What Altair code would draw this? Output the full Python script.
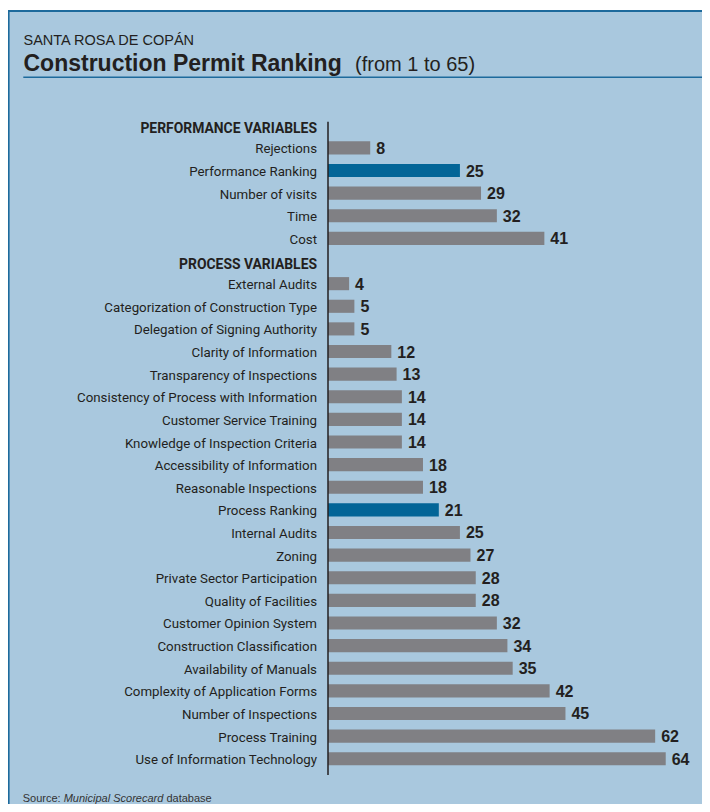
import altair as alt
import pandas as pd

# ---- data ----
perf_labels = ["Rejections", "Performance Ranking", "Number of visits", "Time", "Cost"]
perf_values = [8, 25, 29, 32, 41]

proc_labels = [
    "External Audits", "Categorization of Construction Type", "Delegation of Signing Authority",
    "Clarity of Information", "Transparency of Inspections", "Consistency of Process with Information",
    "Customer Service Training", "Knowledge of Inspection Criteria", "Accessibility of Information",
    "Reasonable Inspections", "Process Ranking", "Internal Audits", "Zoning",
    "Private Sector Participation", "Quality of Facilities", "Customer Opinion System",
    "Construction Classification", "Availability of Manuals", "Complexity of Application Forms",
    "Number of Inspections", "Process Training", "Use of Information Technology",
]
proc_values = [4, 5, 5, 12, 13, 14, 14, 14, 18, 18, 21, 25, 27, 28, 28, 32, 34, 35, 42, 45, 62, 64]

headers = ["PERFORMANCE VARIABLES", "PROCESS VARIABLES"]
highlight = ["Performance Ranking", "Process Ranking"]

title_top = ["SANTA ROSA DE COPÁN"]
title_main = ["Construction Permit Ranking"]
title_range = ["(from 1 to 65)"]
source_parts = ["Source:", "Municipal Scorecard", "database"]

# ---- build rows ----
rows = []
rows.append({"label": headers[0], "value": None, "kind": "header"})
for l, v in zip(perf_labels, perf_values):
    rows.append({"label": l, "value": v, "kind": "hl" if l in highlight else "bar"})
rows.append({"label": "", "value": None, "kind": "blank"})
rows.append({"label": headers[1], "value": None, "kind": "header"})
for l, v in zip(proc_labels, proc_values):
    rows.append({"label": l, "value": v, "kind": "hl" if l in highlight else "bar"})
df = pd.DataFrame(rows)
df["row"] = range(len(df))

LABEL_FONT = "Roboto, 'Liberation Sans', sans-serif"
SANS = "'Liberation Sans', Arial, sans-serif"
BG = "#a9c8de"
BORDER = "#1d6a9c"
TXT = "#231f20"

W, H = 343, 656
PAD = {"left": 320, "top": 106, "right": 31, "bottom": 34}

yenc = alt.Y("row:O", axis=None, scale=alt.Scale(paddingInner=0.42, paddingOuter=0.21))
xscale = alt.Scale(domain=[0, 65], nice=False)

base = alt.Chart(df)
bars_df = base.transform_filter("datum.kind == 'bar' || datum.kind == 'hl'")

bars = bars_df.mark_bar().encode(
    x=alt.X("value:Q", scale=xscale, axis=None),
    y=yenc,
    color=alt.Color("kind:N", scale=alt.Scale(domain=["bar", "hl"], range=["#808084", "#036597"]), legend=None),
)

values = bars_df.mark_text(align="left", baseline="middle", dx=6, dy=1, font=SANS,
                           fontSize=16, fontWeight="bold", color=TXT).encode(
    x=alt.X("value:Q", scale=xscale, axis=None), y=yenc, text="value:Q")

labels = bars_df.mark_text(align="right", baseline="middle", dy=1.5, font=LABEL_FONT,
                           fontSize=13.3, color=TXT).encode(
    x=alt.value(-11), y=yenc, text="label:N")

hdrs = base.transform_filter("datum.kind == 'header'").mark_text(
    align="right", baseline="middle", dy=3.5, font=LABEL_FONT, fontSize=13.9,
    fontWeight="bold", color=TXT).encode(x=alt.value(-11), y=yenc, text="label:N")

def rule(x, x2, y, y2, color, width):
    return alt.Chart(pd.DataFrame({"a": [0]})).mark_rule(color=color, strokeWidth=width).encode(
        x=alt.value(x), x2=alt.value(x2), y=alt.value(y), y2=alt.value(y2))

def txt(s, x, y, size, weight="normal", style="normal", font=SANS, color=TXT):
    return alt.Chart(pd.DataFrame({"t": s})).mark_text(
        align="left", baseline="alphabetic", font=font, fontSize=size,
        fontWeight=weight, fontStyle=style, color=color).encode(
        x=alt.value(x), y=alt.value(y), text="t:N")

axis_line = rule(0, 0, 7.7, 661, "#231f20", 1.5)
white_strip = rule(-330, 380, -105, -105, "white", 2)
top_border = rule(-330, 380, -103, -103, BORDER, 2)
left_border = rule(-319.2, -319.2, -104, 700, BORDER, 1.6)
underline = rule(-304.7, 380, -36.7, -36.7, BORDER, 1.5)

t1 = txt(title_top, -304.5, -69, 14.5)
t2 = txt(title_main, -304.5, -43, 23, weight="bold")
t3 = txt(title_range, 27, -43, 20)
s1 = txt([source_parts[0]], -305.3, 688, 11, color="#333333")
s2 = txt([source_parts[1]], -264.3, 688, 11, style="italic", color="#333333")
s3 = txt([source_parts[2]], -161.6, 688, 11, color="#333333")

chart = alt.layer(
    white_strip, top_border, left_border, underline,
    bars, values, labels, hdrs, axis_line,
    t1, t2, t3, s1, s2, s3,
).properties(
    width=W, height=H,
    autosize=alt.AutoSizeParams(type="none"),
    padding=PAD,
    background=BG,
).configure_view(stroke=None)

chart.save("out.html", embed_options={"renderer": "svg", "actions": False})
